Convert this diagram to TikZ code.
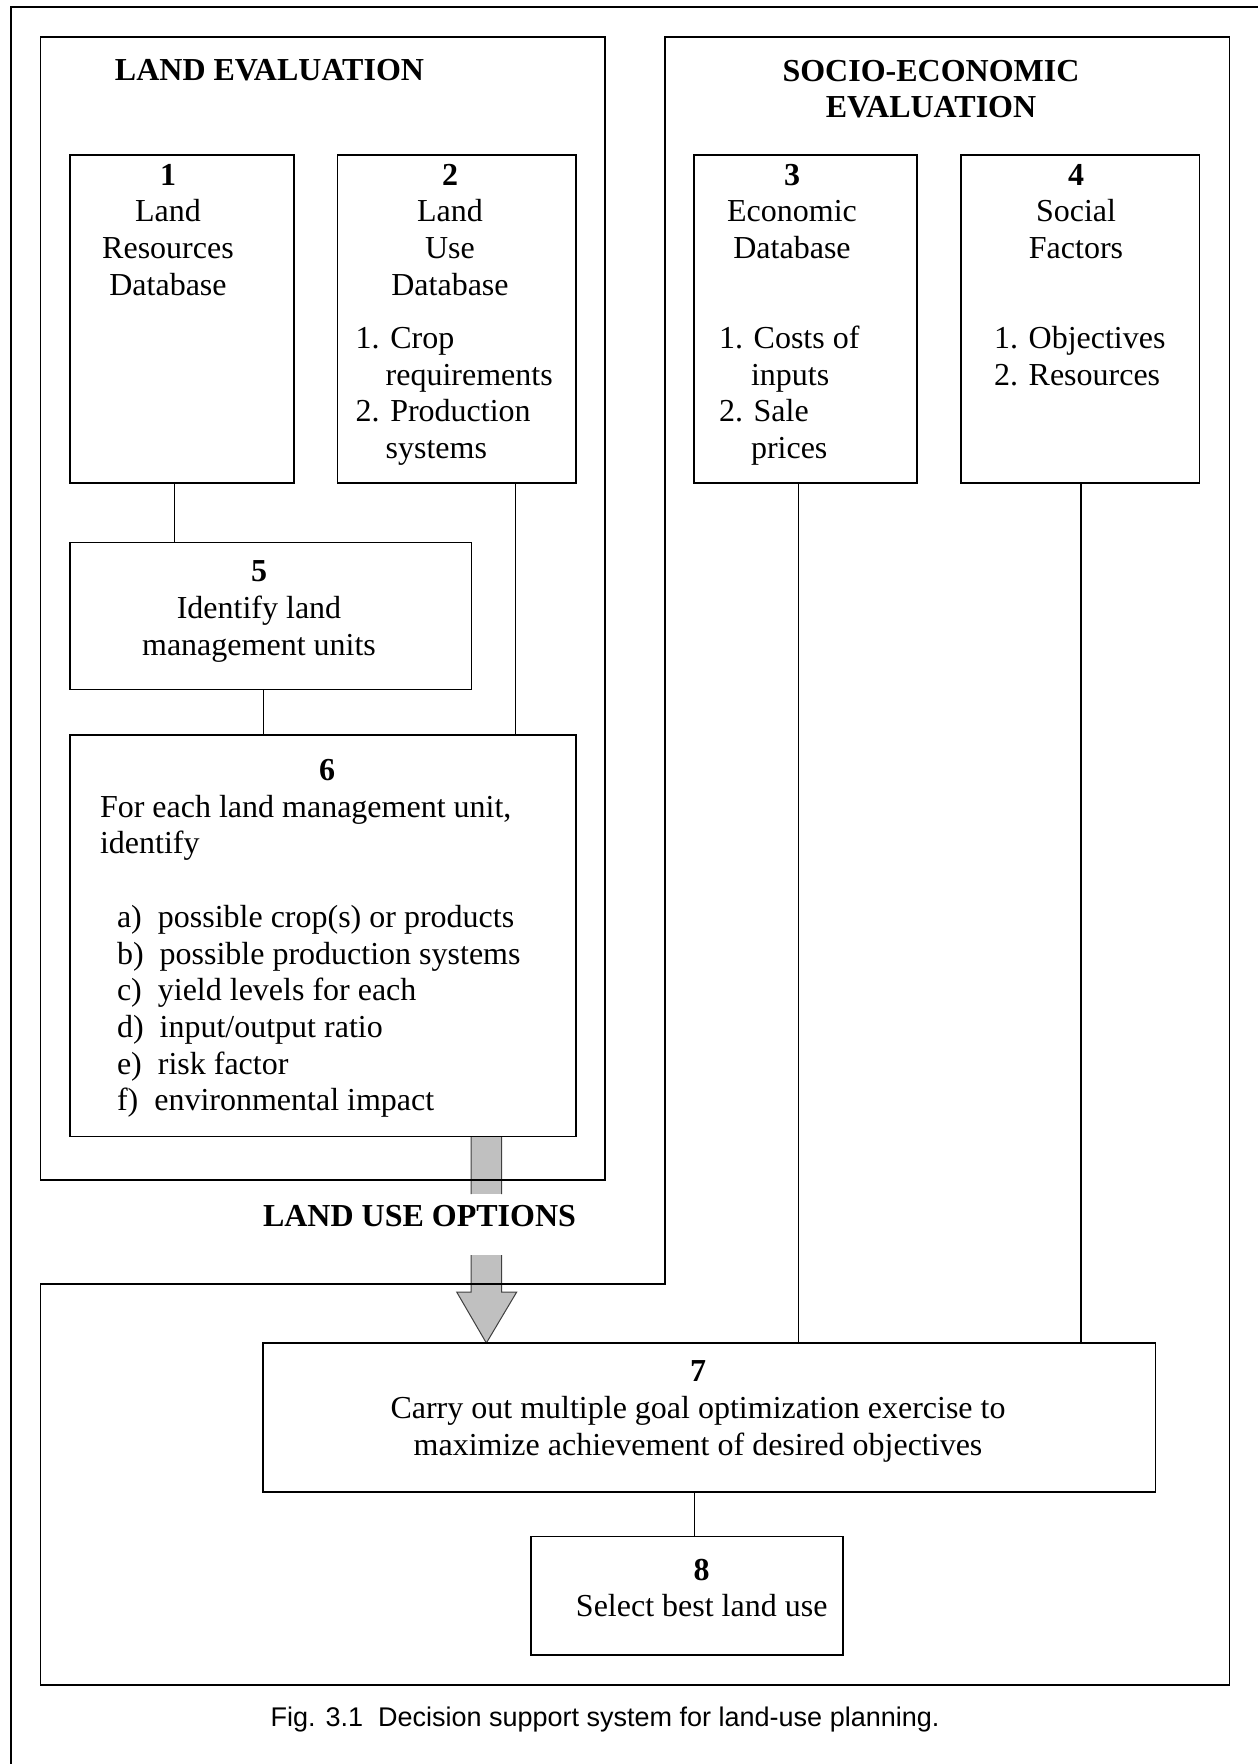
\documentclass[tikz,border=0pt]{standalone}
\usepackage{fontspec}
\setmainfont{Liberation Serif}
\newfontfamily\capfont{Liberation Sans}
\definecolor{arrowgray}{HTML}{C0C0C0}
\pgfdeclarelayer{bg}
\pgfsetlayers{bg,main}
\begin{document}
\begin{tikzpicture}[x=1pt,y=-1pt,
  frame/.style={draw=black, line width=1.3pt},
  dbox/.style={draw=black, line width=1.3pt, rectangle, inner sep=0pt, outer sep=0pt},
  txt/.style={inner sep=0pt, outer sep=0pt, font=\fontsize{32}{36.7}\selectfont, anchor=base},
  ltxt/.style={txt, anchor=base west},
  btxt/.style={txt, font=\fontsize{32}{36.7}\selectfont\bfseries},
  conn/.style={draw=black, line width=1.1pt},
  shaftline/.style={draw=black!75, line width=1pt, line join=miter}
]
\useasboundingbox (0,0) rectangle (1258,1764);

% page frame (top and left edges)
\draw[frame] (1258,7) -- (11,7) -- (11,1764);

% land evaluation frame
\node[dbox, minimum width=564.5pt, minimum height=1143pt] (le) at (322.75,608.5) {};
% socio-economic / decision frame
\draw[frame] (665,37) -- (1229.3,37) -- (1229.3,1685) -- (40.5,1685) -- (40.5,1284) -- (665,1284) -- cycle;

% boxes
\node[dbox, minimum width=224pt, minimum height=328pt] (b1) at (182,319) {};
\node[dbox, minimum width=238.5pt, minimum height=328pt] (b2) at (456.75,319) {};
\node[dbox, minimum width=223pt, minimum height=328pt] (b3) at (805.5,319) {};
\node[dbox, minimum width=238.5pt, minimum height=328pt] (b4) at (1080.25,319) {};
\node[dbox, minimum width=401.5pt, minimum height=147.5pt] (b5) at (270.75,616) {};
\node[dbox, minimum width=506pt, minimum height=401.5pt] (b6) at (323,935.75) {};
\node[dbox, minimum width=892.5pt, minimum height=149pt] (b7) at (709.25,1417.5) {};
\node[dbox, minimum width=312pt, minimum height=118.5pt] (b8) at (687,1595.75) {};

% connectors
\coordinate (x15) at (174.4,0);
\coordinate (x26) at (515.5,0);
\coordinate (x56) at (263.3,0);
\coordinate (x37) at (798.5,0);
\coordinate (x47) at (1081,0);
\coordinate (x78) at (694.3,0);
\draw[conn] (b1.south -| x15) -- (b5.north -| x15);
\draw[conn] (b2.south -| x26) -- (b6.north -| x26);
\draw[conn] (b5.south -| x56) -- (b6.north -| x56);
\draw[conn] (b3.south -| x37) -- (b7.north -| x37);
\draw[conn] (b4.south -| x47) -- (b7.north -| x47);
\draw[conn] (b7.south -| x78) -- (b8.north -| x78);

% titles
\node[btxt] (tle) at (269.5,80) {LAND EVALUATION};
\node[btxt] (tse1) at (931,81) {SOCIO-ECONOMIC};
\node[btxt] (tse2) at (931,117.7) {EVALUATION};
\node[btxt] (luo) at (419.5,1226) {LAND USE OPTIONS};

% big grey arrow from box 6 to box 7 (behind the frames)
\coordinate (ax) at (486.35,0);
\begin{pgfonlayer}{bg}
  \fill[arrowgray] ([xshift=-15.35pt]b6.south -| ax) rectangle (501.7,1194);
  \draw[shaftline] ([xshift=-15.35pt]b6.south -| ax) -- (471,1194)
                   ([xshift=15.35pt]b6.south -| ax) -- (501.7,1194);
  \fill[arrowgray] (471,1255) -- (471,1292) -- (456.7,1292) -- (b7.north -| ax)
       -- (516.7,1292) -- (501.7,1292) -- (501.7,1255) -- cycle;
  \draw[shaftline] (471,1255) -- (471,1292) -- (456.7,1292) -- (b7.north -| ax)
       -- (516.7,1292) -- (501.7,1292) -- (501.7,1255);
\end{pgfonlayer}

% box 1
\node[btxt] (t1n) at (168,185) {1};
\node[txt] (t1a) at (168,221.7) {Land};
\node[txt] (t1b) at (168,258.3) {Resources};
\node[txt] (t1c) at (168,295) {Database};

% box 2
\node[btxt] (t2n) at (450,185) {2};
\node[txt] (t2a) at (450,221.7) {Land};
\node[txt] (t2b) at (450,258.3) {Use};
\node[txt] (t2c) at (450,295) {Database};
\node[ltxt] (t2d) at (355.6,348.3) {1. Crop};
\node[ltxt] (t2e) at (385.7,385) {requirements};
\node[ltxt] (t2f) at (355.6,421.7) {2. Production};
\node[ltxt] (t2g) at (385.7,458.4) {systems};

% box 3
\node[btxt] (t3n) at (792,185) {3};
\node[txt] (t3a) at (792,221.7) {Economic};
\node[txt] (t3b) at (792,258.3) {Database};
\node[ltxt] (t3c) at (719,348.3) {1. Costs of};
\node[ltxt] (t3d) at (751,385) {inputs};
\node[ltxt] (t3e) at (719,421.7) {2. Sale};
\node[ltxt] (t3f) at (751,458.4) {prices};

% box 4
\node[btxt] (t4n) at (1076,185) {4};
\node[txt] (t4a) at (1076,221.7) {Social};
\node[txt] (t4b) at (1076,258.3) {Factors};
\node[ltxt] (t4c) at (994,348.3) {1. Objectives};
\node[ltxt] (t4d) at (994,385) {2. Resources};

% box 5
\node[btxt] (t5n) at (259,581.6) {5};
\node[txt] (t5a) at (259,618.3) {Identify land};
\node[txt] (t5b) at (259,655) {management units};

% box 6
\node[btxt] (t6n) at (327,780.5) {6};
\node[ltxt] (t6a) at (100,817.2) {For each land management unit,};
\node[ltxt] (t6b) at (100,853.9) {identify};
\node[ltxt] (t6c) at (117,927.3) {a)\ \ possible crop(s) or products};
\node[ltxt] (t6d) at (117,964) {b)\ \ possible production systems};
\node[ltxt] (t6e) at (117,1000.7) {c)\ \ yield levels for each};
\node[ltxt] (t6f) at (117,1037.4) {d)\ \ input/output ratio};
\node[ltxt] (t6g) at (117,1074.1) {e)\ \ risk factor};
\node[ltxt] (t6h) at (117,1110.8) {f)\ \ environmental impact};

% box 7
\node[btxt] (t7n) at (698,1381.7) {7};
\node[txt] (t7a) at (698,1418.3) {Carry out multiple goal optimization exercise to};
\node[txt] (t7b) at (698,1455) {maximize achievement of desired objectives};

% box 8
\node[btxt] (t8n) at (701.7,1580) {8};
\node[txt] (t8a) at (701.7,1616.7) {Select best land use};

% caption
\node[inner sep=0pt, anchor=base, font=\capfont\fontsize{27}{32}\selectfont] (cap) at (605,1726)
  {Fig. 3.1\ \ Decision support system for land-use planning.};
\end{tikzpicture}
\end{document}
